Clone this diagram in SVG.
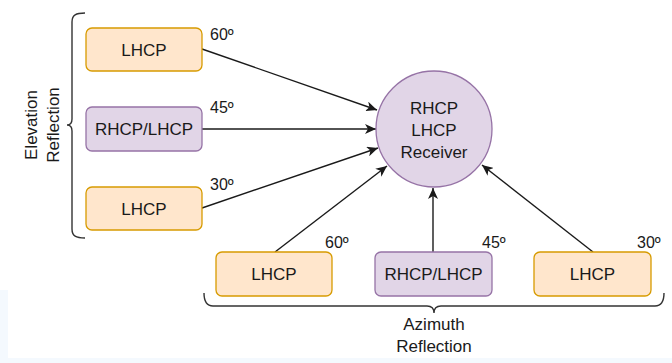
<svg xmlns="http://www.w3.org/2000/svg" width="672" height="363" viewBox="0 0 672 363">
  <style>
    text { font-family: "Liberation Sans", Arial, sans-serif; fill: #1a1a1a; }
    .lbl { font-size: 17px; text-anchor: middle; }
    .ang { font-size: 16px; }
    .orange { fill: #ffe6cc; stroke: #d79b00; stroke-width: 1.3; }
    .purple { fill: #e1d5e7; stroke: #9673a6; stroke-width: 1.3; }
    .edge { stroke: #1a1a1a; stroke-width: 1.4; fill: none; marker-end: url(#arrow); }
    .brace { stroke: #333; stroke-width: 1.4; fill: none; }
  </style>
  <defs>
    <marker id="arrow" markerUnits="userSpaceOnUse" markerWidth="12" markerHeight="10" viewBox="0 0 12 10" refX="11" refY="5" orient="auto">
      <path d="M0,0 L11,5 L0,10 L3,5 z" fill="#1a1a1a"/>
    </marker>
  </defs>
  <rect x="0" y="0" width="672" height="363" fill="#ffffff"/>
  <rect x="0" y="290" width="8" height="73" fill="#f4f9fe"/>
  <rect x="0" y="358" width="672" height="5" fill="#f4f9fe"/>

  <g id="connectors">
    <line class="edge" x1="202" y1="49" x2="377" y2="110"/>
    <line class="edge" x1="202" y1="129" x2="376" y2="129"/>
    <line class="edge" x1="202" y1="208" x2="378" y2="148"/>
    <line class="edge" x1="275" y1="252" x2="387" y2="166"/>
    <line class="edge" x1="433" y1="252" x2="433" y2="188"/>
    <line class="edge" x1="593" y1="252" x2="482" y2="165"/>
  </g>

  <g id="receiver">
    <circle class="purple" cx="434" cy="129" r="58"/>
    <text class="lbl" x="434" y="114">RHCP</text>
    <text class="lbl" x="434" y="136">LHCP</text>
    <text class="lbl" x="434" y="158">Receiver</text>
  </g>

  <g id="elev60">
    <rect class="orange" x="86" y="28" width="116" height="43" rx="6"/>
    <text class="lbl" x="144" y="55.5">LHCP</text>
    <text class="ang" x="210" y="40">60º</text>
  </g>
  <g id="elev45">
    <rect class="purple" x="86" y="107" width="116" height="44" rx="6"/>
    <text class="lbl" x="144" y="135">RHCP/LHCP</text>
    <text class="ang" x="210" y="113">45º</text>
  </g>
  <g id="elev30">
    <rect class="orange" x="86" y="187" width="116" height="43" rx="6"/>
    <text class="lbl" x="144" y="214.5">LHCP</text>
    <text class="ang" x="210" y="190">30º</text>
  </g>

  <g id="azi60">
    <rect class="orange" x="216" y="252" width="116" height="44" rx="6"/>
    <text class="lbl" x="274" y="280">LHCP</text>
    <text class="ang" x="325" y="248">60º</text>
  </g>
  <g id="azi45">
    <rect class="purple" x="375" y="252" width="117" height="44" rx="6"/>
    <text class="lbl" x="433.5" y="280">RHCP/LHCP</text>
    <text class="ang" x="482" y="248">45º</text>
  </g>
  <g id="azi30">
    <rect class="orange" x="534" y="252" width="117" height="44" rx="6"/>
    <text class="lbl" x="592.5" y="280">LHCP</text>
    <text class="ang" x="637" y="248">30º</text>
  </g>

  <g id="elevation-brace">
    <path class="brace" d="M85,13 C76,13 72,15 72,22 L72,119 Q72,125 67,125 Q72,125 72,131 L72,229 C72,236 76,238 85,238"/>
    <text class="lbl" transform="translate(37,125) rotate(-90)" x="0" y="0">Elevation</text>
    <text class="lbl" transform="translate(59,125) rotate(-90)" x="0" y="0">Reflection</text>
  </g>

  <g id="azimuth-brace">
    <path class="brace" d="M204,293 Q204,306 213,306 L427,306 Q434,306 434,313 Q434,306 441,306 L655,306 Q664,306 664,293"/>
    <text class="lbl" x="434" y="330">Azimuth</text>
    <text class="lbl" x="434" y="352">Reflection</text>
  </g>
</svg>
